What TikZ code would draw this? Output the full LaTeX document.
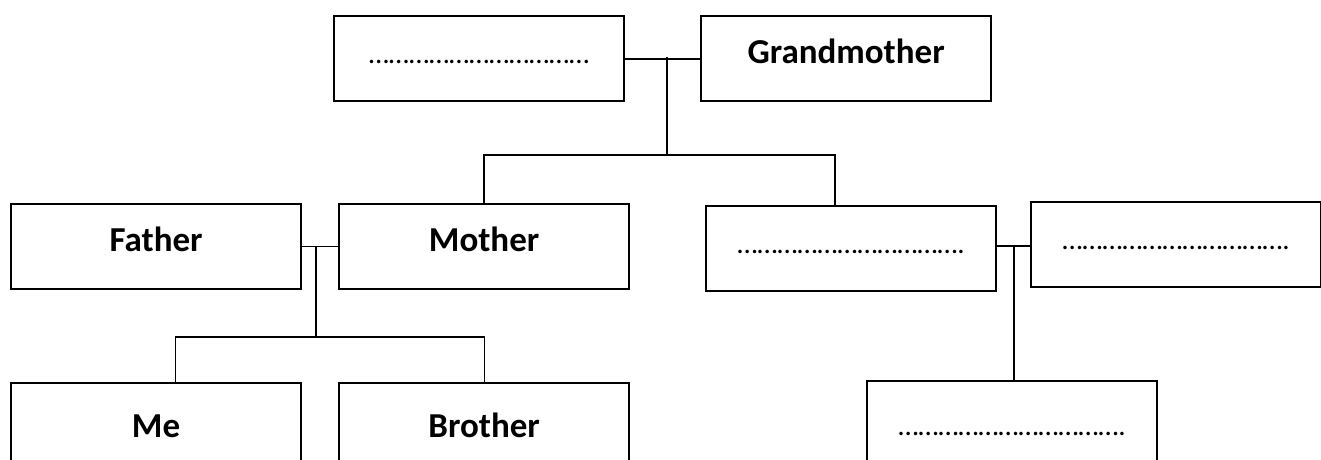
\documentclass[tikz,border=0pt]{standalone}
\usepackage{fontspec}
\setmainfont{Carlito}
\usepackage{tikz}

\begin{document}
\begin{tikzpicture}[x=1pt,y=-1pt,
    every node/.style={draw,line width=2.2pt,anchor=north west,inner sep=0pt,
      minimum width=290pt,minimum height=85pt,text height=47pt,text depth=38pt,
      font=\fontsize{35}{40}\selectfont\bfseries},
    blank/.style={font=\fontsize{29}{36}\selectfont},
    link/.style={line width=1.2pt},
    toplink/.style={line width=2.2pt}]
  \useasboundingbox (0,0) rectangle (1321,459);
          \node (gf) at (333,15) [blank] {……………………………};
          \node (gm) at (700,15) {Grandmother};
          \node (father) at (10,203) {Father};
          \node (mother) at (338,203) {Mother};
          \node (aunt) at (705,205) [blank] {…………………………….};
          \node (uncle) at (1030,201) [blank] {…………………………….};
          \node (me) at (10,382) [minimum height=100pt] {Me};
          \node (brother) at (338,382) [minimum height=100pt] {Brother};
          \node (cousin) at (866,380) [blank,minimum height=100pt] {…………………………….};
          \coordinate (tj) at (667,57);
          \coordinate (tb) at (667,155);
          \coordinate (pj) at (316,246);
          \coordinate (pb) at (316,337);
          \coordinate (rj) at (1014,246);
            \draw[toplink] (gf.east) -- (gm.west);
            \draw[toplink] (tj) -- (tb);
            \draw[toplink] (mother.north) |- (tb) -| ([xshift=-16pt]aunt.north);
            \draw[link] (father.east) -- (mother.west);
            \draw[link] (pj) -- (pb);
            \draw[link] ([xshift=19pt]me.north) |- (pb) -| (brother.north);
            \draw[link] (aunt.east |- rj) -- (uncle.west |- rj);
            \draw[link] (rj) -- (rj |- cousin.north);
        \end{tikzpicture}
\end{document}
